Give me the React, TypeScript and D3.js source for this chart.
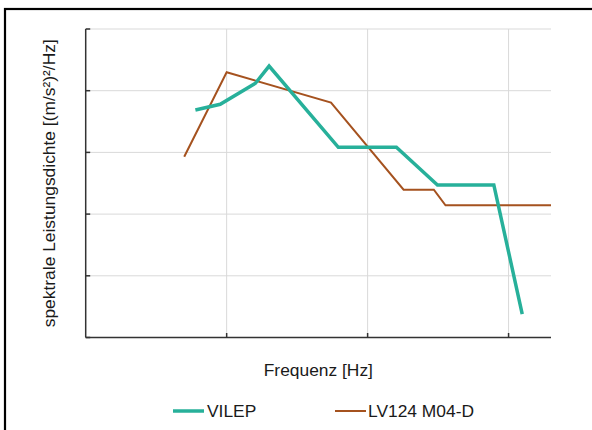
import React from "react";
import * as d3 from "d3";

const vilepFreq = [6, 9, 16, 20, 62, 160, 313, 786, 1250];
const vilepPsd = [0.486, 0.603, 1.32, 2.51, 0.121, 0.121, 0.0297, 0.0297, 0.00024];
const lvFreq = [5, 10, 55, 180, 295, 357, 2000];
const lvPsd = [0.085, 1.99, 0.64, 0.0248, 0.0248, 0.0139, 0.0139];
const xTicks = [10, 100, 1000];
const yTicks = [0.0001, 0.001, 0.01, 0.1, 1, 10];
const seriesNames = ["VILEP", "LV124 M04-D"];
const colors = ["#27B09A", "#A5521F"];

const W = 592, H = 430;
const left = 85.7, right = 551, top = 29, bottom = 337.5;

export default function App() {
  const x = d3.scaleLog().domain([1, 2000]).range([left, right]);
  const y = d3.scaleLog().domain([0.0001, 10]).range([bottom, top]);
  const line = d3.line<[number, number]>().x(d => x(d[0])).y(d => y(d[1]));
  const vilep = vilepFreq.map((f, i) => [f, vilepPsd[i]] as [number, number]);
  const lv = lvFreq.map((f, i) => [f, lvPsd[i]] as [number, number]);
  const font = "'Liberation Sans', Arial, sans-serif";
  const fs = 17.4;
  return (
    <svg width={W} height={H} style={{ position: "absolute", left: 0, top: 0 }}>
      <rect x={0} y={0} width={W} height={H} fill="#fff" />
      <rect x={5} y={9} width={620} height={450} fill="none" stroke="#000" strokeWidth={2.2} />
      {yTicks.slice(1).map(t => (
        <line key={"gy" + t} x1={left} x2={right} y1={y(t)} y2={y(t)} stroke="#d9d9d9" strokeWidth={1} />
      ))}
      {xTicks.map(t => (
        <line key={"gx" + t} x1={x(t)} x2={x(t)} y1={top} y2={bottom} stroke="#d9d9d9" strokeWidth={1} />
      ))}
      <path d={line(lv) || ""} fill="none" stroke={colors[1]} strokeWidth={2} strokeLinejoin="miter" />
      <path d={line(vilep) || ""} fill="none" stroke={colors[0]} strokeWidth={3.5} strokeLinejoin="miter" />
      <line x1={left} x2={left} y1={top} y2={bottom} stroke="#333" strokeWidth={1.5} />
      <line x1={left} x2={right} y1={bottom} y2={bottom} stroke="#333" strokeWidth={1.5} />
      {yTicks.map(t => (
        <line key={"ty" + t} x1={left} x2={left + 4.5} y1={y(t)} y2={y(t)} stroke="#333" strokeWidth={1.5} />
      ))}
      {xTicks.map(t => (
        <line key={"tx" + t} x1={x(t)} x2={x(t)} y1={bottom} y2={bottom - 4.5} stroke="#333" strokeWidth={1.5} />
      ))}
      <text transform={`translate(54.5,${(top + bottom) / 2}) rotate(-90)`} textAnchor="middle"
        fontFamily={font} fontSize={fs} fill="#1a1a1a">spektrale Leistungsdichte [(m/s²)²/Hz]</text>
      <text x={(left + right) / 2} y={376} textAnchor="middle" fontFamily={font} fontSize={fs} fill="#1a1a1a">Frequenz [Hz]</text>
      <line x1={173} x2={204} y1={411} y2={411} stroke={colors[0]} strokeWidth={3.5} />
      <text x={207} y={417.3} fontFamily={font} fontSize={fs} fill="#1a1a1a">{seriesNames[0]}</text>
      <line x1={335} x2={366} y1={411} y2={411} stroke={colors[1]} strokeWidth={2} />
      <text x={368} y={417.3} fontFamily={font} fontSize={fs} fill="#1a1a1a">{seriesNames[1]}</text>
    </svg>
  );
}
